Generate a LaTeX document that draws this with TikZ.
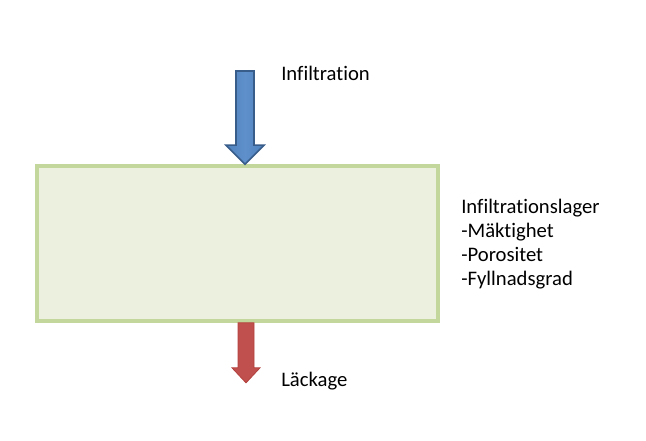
\documentclass[tikz,border=0pt]{standalone}
\usepackage{fontspec}
\setmainfont{Carlito}[Ligatures=NoCommon]
\usetikzlibrary{positioning,calc}
\definecolor{lgreen}{HTML}{C3D69B}
\definecolor{lgreenf}{HTML}{EBF1DE}
\definecolor{ablue}{HTML}{4F81BD}
\definecolor{abluel}{HTML}{5F90CC}
\definecolor{ablued}{HTML}{385D8A}
\definecolor{ared}{HTML}{C0504D}
\definecolor{aredd}{HTML}{B3403D}
\tikzset{
  % pale green layer box
  layerbox/.style = {rectangle, draw=lgreen, fill=lgreenf, line width=3pt,
                     minimum width=301pt, minimum height=116pt, inner sep=0pt},
  inflow/.style   = {left color=ablue, right color=ablue, middle color=abluel,
                     draw=ablued, line width=1.2pt, line join=miter},
  outflow/.style  = {fill=ared, draw=aredd, line width=0.6pt, line join=miter},
  lbl/.style      = {font=\fontsize{15.5}{18}\selectfont, inner sep=0pt, align=left},
}
\begin{document}
\begin{tikzpicture}[x=0.75pt, y=-0.75pt]
\useasboundingbox[fill=white] (0,0) rectangle (646,440);
\node[layerbox] (lager) at (237.75,243.5) {};
\coordinate (intop) at (245,71);
\coordinate (inend) at (lager.north -| intop);
\coordinate (outtop) at (lager.south -| 246,0);
% infiltration arrow
\draw[inflow] ($(intop)+(-9,0)$) -- ++(18,0) |- ($(inend)+(9,-19)$) -- ++(10,0)
   -- ($(inend)+(0,0)$) -- ($(inend)+(-19,-19)$) -- ++(10,0) -- cycle;
% leakage arrow
\draw[outflow] ($(outtop)+(-8,0)$) -- ++(16,0) -- ++(0,45) -- ++(6,0)
   -- ($(outtop)+(0,60)$) -- ($(outtop)+(-14,45)$) -- ++(6,0) -- cycle;
\node[lbl, anchor=base west] (infl) at (281,80) {Infiltration};
\node[lbl, anchor=base west] (leak) at (281,386) {Läckage};
\node[lbl, anchor=north west] (props) at (461,199)
  {Infiltrationslager\\-Mäktighet\\-Porositet\\-Fyllnadsgrad};
\end{tikzpicture}
\end{document}
